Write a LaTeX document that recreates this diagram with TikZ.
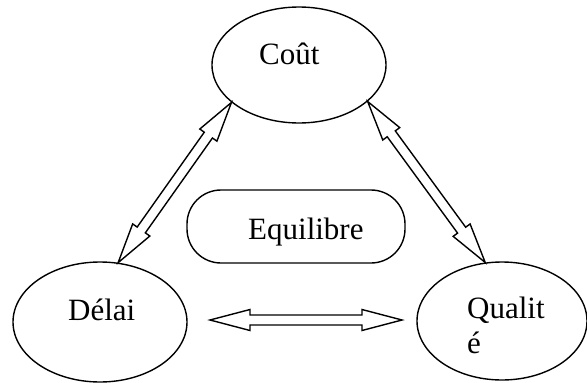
\documentclass[tikz,border=0pt]{standalone}
\usepackage{fontspec}
\setmainfont{Liberation Serif}
\usetikzlibrary{calc,shapes.geometric}

\tikzset{
  outline/.style={draw=black, line width=1.4pt},
  ell/.style={outline, ellipse, inner sep=0pt},
  lbl/.style={anchor=base west, inner sep=0pt, font=\fontsize{31}{37}\selectfont},
  % hollow double-headed arrow drawn as a closed polygon between two points
  dblarrow/.style={outline, line join=miter, to path={
    -- ($(\tikztostart)!40pt!(\tikztotarget)!10.5pt!90:(\tikztotarget)$)
    -- ($(\tikztostart)!40pt!(\tikztotarget)!5pt!90:(\tikztotarget)$)
    -- ($(\tikztotarget)!40pt!(\tikztostart)!5pt!-90:(\tikztostart)$)
    -- ($(\tikztotarget)!40pt!(\tikztostart)!10.5pt!-90:(\tikztostart)$)
    -- (\tikztotarget)
    -- ($(\tikztotarget)!40pt!(\tikztostart)!10.5pt!90:(\tikztostart)$)
    -- ($(\tikztotarget)!40pt!(\tikztostart)!5pt!90:(\tikztostart)$)
    -- ($(\tikztostart)!40pt!(\tikztotarget)!5pt!-90:(\tikztotarget)$)
    -- ($(\tikztostart)!40pt!(\tikztotarget)!10.5pt!-90:(\tikztotarget)$)
    -- cycle}}
}

\begin{document}
\begin{tikzpicture}[x=1pt, y=-1pt]
  \useasboundingbox (0,0) rectangle (587,383);

  % the three constraints
  \node[ell, minimum width=174pt, minimum height=116pt] (cout) at (299,65) {};
  \node[ell, minimum width=174pt, minimum height=120pt] (delai) at (100,322) {};
  \node[ell, minimum width=170pt, minimum height=118pt] (qualite) at (502,321) {};

  % central balance box
  \node[outline, rectangle, rounded corners=34pt, minimum width=218pt,
        minimum height=73pt, inner sep=0pt] (equilibre) at (296,226.5) {};

  % labels
  \node[lbl] (cout-t) at (259,64) {Coût};
  \node[lbl] (delai-t) at (68,320) {Délai};
  \node[lbl] (qualite-t1) at (467,318) {Qualit};
  \node[lbl] (qualite-t2) at (467,353) {é};
  \begin{scope}
    \clip (187,190) rectangle (405,245);
    \node[lbl] (equilibre-t) at (248,239) {Equilibre};
  \end{scope}

  % links between the constraints
  \draw[dblarrow] (cout.209) to (delai.73);
  \draw[dblarrow] (cout.332) to (qualite.106);
  \coordinate (hl) at (210,320);
  \coordinate (hr) at (402,320);
  \draw[dblarrow] (hl) to (hr);
\end{tikzpicture}
\end{document}
